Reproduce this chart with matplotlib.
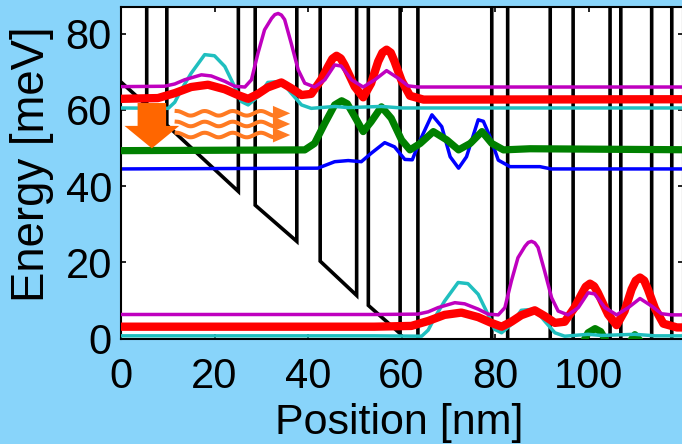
import numpy as np
import matplotlib
matplotlib.use('Agg')
import matplotlib.pyplot as plt
from matplotlib.patches import FancyArrow, Polygon

plt.rcParams['font.family'] = ['Liberation Sans', 'DejaVu Sans']

# period of the structure (one stage) in x and the energy drop over it
PERIOD_NM = 54.2
PERIOD_MEV = 59.8

# conduction band: energies at the well edges (barriers sit between pairs)
cb_x = [0, 5.5, 9.8, 25.1, 28.7, 37.6, 42.6, 50.4, 52.9, 59.7, 63.5,
        79.3, 82.7, 91.8, 96.7, 104.6, 106.9, 113.5, 117.8, 120.2]
cb_e = [67.3, 61.2, 56.0, 38.6, 35.0, 25.5, 20.3, 11.3, 8.7, 1.3, -3.0,
        -20.5, -24.2, -34.2, -39.6, -48.3, -50.8, -58.0, -62.8, -65.5]
BARRIER_TOP = 200.0

# states of one stage (upper copy), energy + |psi|^2
mag_x = [0, 9.3, 11.5, 13.6, 17.2, 19.3, 22.2, 24.3, 26.5, 27.9, 29.3, 30.7, 32.2,
         32.9, 33.6, 34.3, 35.0, 36.4, 37.9, 39.3, 41.4, 43.6, 45.7, 47.1, 49.3,
         51.8, 54.3, 56.8, 59.3, 61.4, 63.5, 125]
mag_e = [66.1, 66.2, 66.8, 67.9, 69.2, 68.9, 67.5, 66.2, 66.0, 67.9, 74.9, 81.0, 84.0,
         85.0, 85.3, 84.9, 83.7, 77.5, 70.5, 67.0, 66.0, 67.9, 71.8, 71.5, 67.9,
         66.0, 67.9, 70.3, 68.3, 66.3, 66.0, 66.0]

red_x = [0, 7.9, 11.5, 15.0, 18.6, 22.2, 25.0, 27.2, 29.3, 31.4, 34.3, 36.4, 38.6,
         40.7, 42.8, 44.3, 45.2, 46.1, 47.0, 47.8, 50.0, 51.8, 53.5, 55.0, 55.9,
         56.8, 57.7, 58.5, 60.0, 61.8, 64.7, 125]
red_e = [62.9, 63.1, 64.4, 66.0, 66.6, 65.4, 63.9, 62.9, 64.2, 65.9, 67.2, 65.7, 63.9,
         64.2, 67.9, 71.4, 73.4, 74.2, 73.5, 71.8, 66.1, 63.3, 67.0, 72.7, 75.0,
         75.8, 75.0, 72.7, 67.7, 63.7, 62.7, 62.8]

teal_x = [0, 10.1, 11.5, 12.9, 15.0, 17.9, 20.0, 22.2, 24.3, 25.7, 27.2, 29.3, 31.4,
          34.3, 36.4, 38.6, 40.7, 45.7, 48.6, 55.7, 60.0, 125]
teal_e = [60.5, 60.4, 62.0, 65.3, 69.6, 74.5, 74.2, 71.4, 66.1, 62.2, 61.3, 63.5, 67.2,
          67.5, 64.4, 61.3, 60.4, 60.9, 60.6, 60.9, 60.5, 60.5]

grn_x = [0, 39.3, 41.4, 43.6, 45.7, 47.2, 48.4, 50.0, 51.8, 53.5, 55.7, 57.8, 60.0,
         61.8, 64.0, 66.8, 69.7, 72.2, 74.7, 77.2, 79.3, 81.8, 87.5, 125]
grn_e = [49.3, 49.5, 51.2, 56.5, 61.3, 62.4, 61.6, 58.2, 54.3, 56.9, 60.8, 57.8, 52.1,
         49.5, 51.2, 54.3, 52.1, 49.5, 51.2, 54.3, 51.2, 49.5, 49.8, 49.5]

blu_x = [0, 42.1, 45.7, 48.6, 51.4, 53.5, 56.4, 58.5, 60.7, 62.3, 64.0, 66.5, 68.6,
         70.4, 72.2, 73.9, 76.4, 77.5, 78.9, 80.7, 83.2, 89.6, 92.0, 125]
blu_e = [44.5, 44.7, 46.4, 46.7, 46.4, 48.6, 51.4, 50.3, 47.0, 46.9, 52.1, 58.7, 55.6,
         47.7, 44.7, 47.7, 57.4, 57.0, 53.0, 46.8, 45.1, 45.1, 44.5, 44.5]

fig = plt.figure(figsize=(6.82, 4.44), dpi=100, facecolor='#88D4FA')
ax = fig.add_axes([121/682, (444-338.5)/444, (683-121)/682, 331.5/444])

# band edge path
px, pe = [], []
for i in range(0, len(cb_x) - 1, 2):
    px += [cb_x[i], cb_x[i+1]]
    pe += [cb_e[i], cb_e[i+1]]
    if i + 2 < len(cb_x):
        px += [cb_x[i+1], cb_x[i+2]]
        pe += [BARRIER_TOP, BARRIER_TOP]
ax.plot(px, pe, color='black', lw=2.6, zorder=1, solid_joinstyle='miter')

states = [
    (blu_x, blu_e, '#0000FF', 2.5, 2),
    (grn_x, grn_e, '#008000', 5.2, 3),
    (teal_x, teal_e, '#20BFBF', 2.5, 4),
    (red_x, red_e, '#FF0000', 6.0, 5),
    (mag_x, mag_e, '#BF00BF', 2.5, 6),
]
for xs, es, c, lw, z in states:
    xs = np.array(xs)
    es = np.array(es)
    ax.plot(xs, es, color=c, lw=lw, zorder=z, solid_joinstyle='round')
    # same state one stage further down-stream
    ax.plot(np.r_[0, xs + PERIOD_NM], np.r_[es[0], es] - PERIOD_MEV,
            color=c, lw=lw, zorder=z, solid_joinstyle='round')

# emission arrow
ax.add_patch(FancyArrow(6.6, 61.8, 0, -11.9, width=6.1, head_width=11.7,
                        head_length=5.9, length_includes_head=True,
                        color='#FF6600', lw=0, zorder=8))

# photon wiggles
WAVE_ROWS = [59.1, 56.3, 53.4]
WAVE_X0, WAVE_X1, HEAD_X1, HEAD_H = 11.9, 32.8, 36.2, 3.9
for e in WAVE_ROWS:
    wx = np.linspace(WAVE_X0, WAVE_X1, 200)
    ax.plot(wx, e + 0.6*np.sin(2*np.pi*(wx - WAVE_X0)/6.0 + np.pi/2),
            color='#FF7A22', lw=2.9, zorder=8)
    ax.add_patch(Polygon([[WAVE_X1 - 0.3, e + HEAD_H/2], [HEAD_X1, e],
                          [WAVE_X1 - 0.3, e - HEAD_H/2]], closed=True,
                         color='#FF7A22', lw=0, zorder=8))

ax.set_xlim(0, 120.2)
ax.set_ylim(0, 87)
ax.set_xticks([0, 20, 40, 60, 80, 100])
ax.set_yticks([0, 20, 40, 60, 80])
for s in ax.spines.values():
    s.set_linewidth(1.5)
ax.tick_params(direction='in', length=3.6, width=1.2, top=True, right=True,
               labelsize=30)
ax.tick_params(axis='x', pad=13)
ax.tick_params(axis='y', pad=6.5)

ax.set_xlabel('Position [nm]', fontsize=31)
ax.set_ylabel('Energy [meV]', fontsize=32.8)
ax.xaxis.set_label_coords(0.495, -0.195)
ax.yaxis.set_label_coords(-0.12, 0.527)

fig.savefig('out.png', dpi=100, facecolor=fig.get_facecolor())
